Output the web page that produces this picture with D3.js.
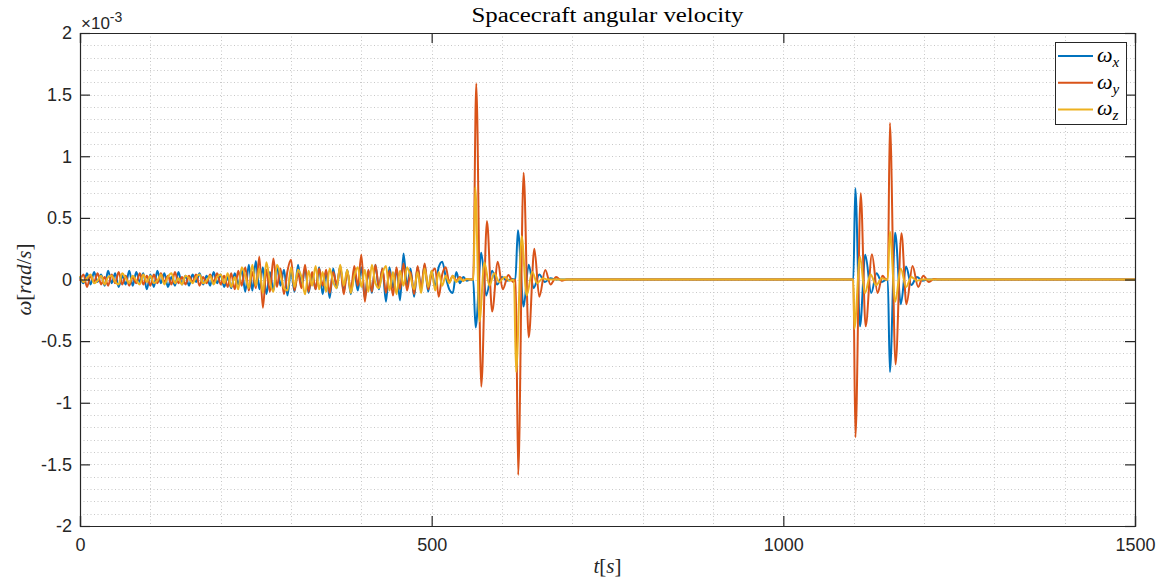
<!DOCTYPE html>
<html>
<head>
<meta charset="utf-8">
<script src="https://cdn.jsdelivr.net/npm/d3@7"></script>
<style>
  body { margin: 0; background: #fff; }
  svg { display: block; }
</style>
</head>
<body>
<div id="chart"></div>
<script>
// values are in units of 1e-3 rad/s

// noise part, one sample every 5 s from t = 0 to t = 555
const noiseStep = 5;
const wxNoise = [
  0.02, -0.03, 0.05, -0.04, 0.06, -0.02, 0.04, -0.05, 0.07, -0.03,
  0.05, -0.06, 0.03, -0.04, 0.07, -0.05, 0.06, -0.02, 0.05, -0.08,
  0.04, -0.06, 0.07, -0.03, 0.05, -0.06, 0.02, -0.05, 0.06, -0.04,
  0.03, -0.05, 0.04, -0.02, 0.05, -0.04, 0.03, -0.05, 0.06, -0.03,
  0.04, -0.06, 0.02, -0.07, 0.05, -0.04, 0.08, -0.10, 0.12, -0.09,
  0.15, -0.08, 0.10, -0.12, 0.06, -0.09, 0.11, -0.05, 0.08, -0.13,
  0.07, -0.10, 0.12, -0.06, 0.09, -0.11, 0.05, -0.08, 0.10, -0.12,
  0.06, -0.15, 0.09, -0.07, 0.11, -0.10, 0.08, -0.12, 0.06, -0.09,
  0.10, -0.15, 0.07, -0.11, 0.12, -0.08, 0.09, -0.18, 0.10, -0.07,
  0.08, -0.17, 0.21, -0.05, 0.09, -0.14, 0.10, -0.08, 0.12, -0.10,
  0.07, -0.06, 0.10, 0.145, 0.02, -0.08, -0.11, 0.06, -0.03, 0.02, -0.01, 0.0
];
const wyNoise = [
  -0.01, 0.04, -0.06, 0.03, -0.02, 0.05, -0.04, 0.02, -0.05, 0.04,
  -0.03, 0.06, -0.04, 0.03, -0.05, 0.02, -0.03, 0.05, -0.04, 0.03,
  -0.05, 0.04, -0.03, 0.05, -0.02, 0.03, -0.04, 0.06, -0.03, 0.02,
  -0.04, 0.03, -0.02, 0.04, -0.05, 0.02, -0.03, 0.04, -0.02, 0.05,
  -0.04, 0.03, -0.06, 0.05, -0.08, 0.07, -0.05, 0.10, -0.09, 0.06,
  -0.07, 0.185, -0.23, 0.08, -0.10, 0.17, -0.06, 0.09, -0.12, 0.07,
  0.16, -0.09, 0.05, -0.07, 0.12, -0.10, 0.06, -0.08, 0.09, -0.05,
  0.08, -0.11, 0.06, -0.04, 0.10, -0.12, 0.07, -0.09, 0.11, -0.05,
  0.20, -0.18, 0.08, -0.10, 0.12, -0.06, 0.09, -0.11, 0.07, -0.13,
  0.10, -0.08, 0.13, -0.09, 0.06, -0.12, 0.11, -0.07, 0.13, -0.08,
  0.05, 0.09, -0.14, 0.04, 0.10, -0.02, 0.03, -0.01, 0.02, -0.01, 0.005, 0.0
];
const wzNoise = [
  0.03, -0.02, 0.01, 0.04, -0.03, -0.01, 0.03, -0.04, 0.02, 0.03,
  -0.02, -0.04, 0.05, 0.01, -0.03, 0.03, -0.01, -0.04, 0.04, -0.02,
  0.03, -0.03, -0.01, 0.04, -0.04, 0.02, 0.05, -0.03, 0.01, -0.04,
  0.03, 0.01, -0.03, 0.02, 0.04, -0.03, -0.01, 0.03, -0.04, 0.02,
  0.04, -0.03, 0.05, -0.06, 0.02, -0.08, 0.10, 0.03, -0.07, 0.12,
  -0.05, 0.09, -0.11, 0.14, -0.02, -0.10, 0.12, 0.04, -0.07, -0.09,
  0.10, -0.06, 0.08, 0.02, -0.12, 0.07, -0.05, 0.11, -0.08, 0.06,
  -0.10, 0.09, -0.02, -0.07, 0.12, -0.05, 0.08, -0.11, 0.03, 0.10,
  -0.06, 0.08, -0.10, 0.12, -0.03, -0.07, 0.05, 0.11, -0.09, 0.06,
  -0.12, 0.07, -0.05, 0.10, 0.02, -0.08, 0.06, -0.11, 0.09, -0.06,
  0.07, -0.09, 0.06, -0.05, 0.03, -0.03, 0.03, -0.02, 0.01, -0.01, 0.005, 0.0
];

// manoeuvre bursts, [t, value] at the extrema
const wxBursts = [
  [559, 0], [562.5, -0.39], [570.5, 0.217], [577.6, -0.13], [586, 0.07], [593, -0.04],
  [600, 0.02], [607, -0.01], [614, 0.005], [619, 0], [622.6, 0.40], [630.7, -0.22],
  [638, 0.12], [645, -0.07], [653, 0.04], [661, -0.02], [669, 0.01], [677, 0],
  [1099.5, 0], [1102.3, 0.74], [1109, -0.38], [1116.5, 0.2], [1125, -0.11], [1132.5, 0.05],
  [1140, -0.02], [1147, 0], [1148.5, 0], [1151.5, -0.75], [1159, 0.38], [1167, -0.2],
  [1174.5, 0.105], [1182, -0.045], [1190, 0.02], [1198, -0.01], [1205, 0], [1500, 0]
];
const wyBursts = [
  [559, 0], [563.4, 1.59], [570.5, -0.87], [578.6, 0.475], [586, -0.26], [594, 0.145],
  [601, -0.08], [609, 0.036], [616, -0.02], [619.5, 0], [623, -1.586], [630.7, 0.867],
  [638, -0.47], [646, 0.25], [653, -0.14], [661.5, 0.077], [669, -0.04], [677, 0.02],
  [685, -0.01], [692, 0],
  [1099.5, 0], [1102.5, -1.28], [1110, 0.70], [1117, -0.38], [1126, 0.205], [1134, -0.11],
  [1141, 0.03], [1146, 0], [1148.5, 0], [1151.5, 1.27], [1159.5, -0.69], [1168, 0.375],
  [1175, -0.2], [1183.7, 0.11], [1191.7, -0.06], [1199, 0.03], [1207, -0.02], [1214, 0.005],
  [1220, 0], [1500, 0]
];
const wzBursts = [
  [559.5, 0], [562, 0.75], [568, -0.34], [575, 0.14], [582, -0.05], [589, 0.05],
  [596, -0.02], [604, 0.02], [611, -0.01], [617, 0], [620, -0.75], [628, 0.35],
  [635, -0.13], [643, 0.06], [650, -0.03], [658, 0.01], [665, 0],
  [1099.5, 0], [1101, -0.40], [1109, 0.185], [1116, -0.11], [1124, 0.04], [1132, -0.045],
  [1140, 0.01], [1146, 0], [1148.5, 0], [1151.5, 0.39], [1159, -0.18], [1167, 0.09],
  [1174.5, -0.06], [1182, 0.02], [1190, -0.01], [1196, 0], [1500, 0]
];

const seriesNames = ["x", "y", "z"];
const seriesColors = ["#0072BD", "#D95319", "#EDB120"];
const xTicks = [0, 500, 1000, 1500];
const yTicks = [-2, -1.5, -1, -0.5, 0, 0.5, 1, 1.5, 2];

const width = 1167, height = 580;
const margin = { top: 33, right: 32, bottom: 54, left: 80 };

const svg = d3.select("#chart").append("svg")
  .attr("width", width)
  .attr("height", height);

const x = d3.scaleLinear().domain([0, 1500]).range([margin.left, width - margin.right]);
const y = d3.scaleLinear().domain([-2, 2]).range([height - margin.bottom, margin.top]);

// grid
const grid = svg.append("g")
  .attr("stroke", "#c8c8c8")
  .attr("stroke-width", 1)
  .attr("stroke-dasharray", "1,2.5");
grid.selectAll(".gx")
  .data(x.ticks(15).filter(d => d > 0 && d < 1500))
  .join("line")
  .attr("x1", d => Math.round(x(d)) + 0.5).attr("x2", d => Math.round(x(d)) + 0.5)
  .attr("y1", y(2)).attr("y2", y(-2));
grid.selectAll(".gy")
  .data(y.ticks(40).filter(d => d > -2 && d < 2))
  .join("line")
  .attr("y1", d => Math.round(y(d)) + 0.5).attr("y2", d => Math.round(y(d)) + 0.5)
  .attr("x1", x(0)).attr("x2", x(1500));

// build series
function buildSeries(noise, bursts) {
  const pts = noise.map((v, i) => [i * noiseStep, v]);
  return pts.concat(bursts);
}
const allSeries = [
  buildSeries(wxNoise, wxBursts),
  buildSeries(wyNoise, wyBursts),
  buildSeries(wzNoise, wzBursts)
];

const line = d3.line()
  .x(d => x(d[0]))
  .y(d => y(d[1]))
  .curve(d3.curveMonotoneX);

svg.append("g")
  .selectAll("path")
  .data(allSeries)
  .join("path")
  .attr("fill", "none")
  .attr("stroke", (d, i) => seriesColors[i])
  .attr("stroke-width", 2)
  .attr("stroke-linejoin", "round")
  .attr("d", line);

// axes
const axisColor = "#262626";
const tickFont = "'Liberation Sans', Arial, Helvetica, sans-serif";

const xAxis = svg.append("g")
  .attr("transform", `translate(0,${y(-2)})`)
  .call(d3.axisBottom(x).tickValues(xTicks).tickSize(-10).tickPadding(12).tickFormat(d => String(d)));
const xAxisTop = svg.append("g")
  .attr("transform", `translate(0,${y(2)})`)
  .call(d3.axisTop(x).tickValues(xTicks).tickSize(-10).tickFormat(""));
const yAxis = svg.append("g")
  .attr("transform", `translate(${x(0)},0)`)
  .call(d3.axisLeft(y).tickValues(yTicks).tickSize(-10).tickPadding(8).tickFormat(d => String(d)));
const yAxisRight = svg.append("g")
  .attr("transform", `translate(${x(1500)},0)`)
  .call(d3.axisRight(y).tickValues(yTicks).tickSize(-10).tickFormat(""));

[xAxis, xAxisTop, yAxis, yAxisRight].forEach(a => {
  a.select(".domain").attr("stroke", axisColor).attr("stroke-width", 1.2);
  a.selectAll(".tick line").attr("stroke", axisColor).attr("stroke-width", 1.2);
  a.selectAll(".tick text").attr("fill", axisColor)
    .style("font-family", tickFont).style("font-size", "18px");
});

// exponent
const expo = svg.append("text")
  .attr("x", x(0) + 1)
  .attr("y", 29)
  .attr("fill", axisColor)
  .style("font-family", tickFont)
  .style("font-size", "17px");
expo.append("tspan").text("\u00d710");
expo.append("tspan").attr("dy", -7).style("font-size", "14px").text("-3");

// title
const serif = "'Liberation Serif', 'Times New Roman', serif";
svg.append("text")
  .attr("x", (x(0) + x(1500)) / 2)
  .attr("y", 22)
  .attr("text-anchor", "middle")
  .attr("fill", "#000")
  .attr("textLength", 272)
  .attr("lengthAdjust", "spacingAndGlyphs")
  .style("font-family", serif)
  .style("font-size", "20px")
  .text("Spacecraft angular velocity");

// axis labels
const xl = svg.append("text")
  .attr("x", (x(0) + x(1500)) / 2)
  .attr("y", 573)
  .attr("text-anchor", "middle")
  .style("font-family", serif)
  .style("font-size", "21px")
  .attr("fill", axisColor);
xl.append("tspan").style("font-style", "italic").text("t");
xl.append("tspan").text("[");
xl.append("tspan").style("font-style", "italic").text("s");
xl.append("tspan").text("]");

const yl = svg.append("text")
  .attr("transform", `translate(31,${y(0)}) rotate(-90)`)
  .attr("text-anchor", "middle")
  .style("font-family", serif)
  .style("font-size", "21px")
  .attr("fill", axisColor);
yl.append("tspan").style("font-style", "italic").text("\u03c9");
yl.append("tspan").text("[");
yl.append("tspan").style("font-style", "italic").text("rad");
yl.append("tspan").text("/");
yl.append("tspan").style("font-style", "italic").text("s");
yl.append("tspan").text("]");

// legend
const legend = svg.append("g").attr("transform", "translate(1055,42)");
legend.append("rect")
  .attr("x", 0.5).attr("y", 0.5)
  .attr("width", 71).attr("height", 82)
  .attr("fill", "#fff")
  .attr("stroke", axisColor)
  .attr("stroke-width", 1);
const items = legend.selectAll(".item")
  .data(seriesNames)
  .join("g")
  .attr("transform", (d, i) => `translate(0,${14 + i * 26.7})`);
items.append("line")
  .attr("x1", 3).attr("x2", 38)
  .attr("stroke", (d, i) => seriesColors[i])
  .attr("stroke-width", 2);
const lt = items.append("text")
  .attr("x", 42)
  .attr("y", 6)
  .style("font-family", serif)
  .style("font-size", "22px")
  .style("font-style", "italic")
  .attr("fill", "#000");
lt.append("tspan").text("\u03c9");
lt.append("tspan").attr("dy", 5).style("font-size", "15px").text(d => d);
</script>
</body>
</html>
